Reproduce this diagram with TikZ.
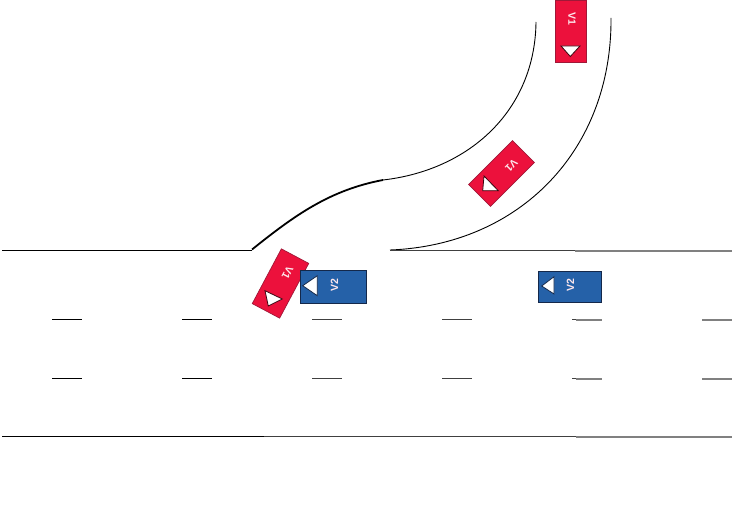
\documentclass[tikz,border=0pt]{standalone}
\usepackage{fontspec}
\setmainfont{Liberation Sans}
\definecolor{carred}{HTML}{EC113C}
\definecolor{carblue}{HTML}{2561A8}
\definecolor{edgeblue}{HTML}{14284A}
\definecolor{edgered}{HTML}{A01838}
\tikzset{
  road/.style={draw=black,line width=0.9pt},
  roadmid/.style={draw=black!75,line width=1.1pt},
  roadpale/.style={draw=black!50,line width=1.7pt},
  roadthick/.style={draw=black,line width=1.8pt},
  redcar/.style={draw=edgered,fill=carred,line width=0.7pt,minimum height=31pt,inner sep=0pt},
  bluecar/.style={draw=edgeblue,fill=carblue,line width=0.8pt,inner sep=0pt},
  mark tri/.style={draw=black!75!carred,fill=white,line width=0.8pt,line join=miter},
  carlabel/.style={text=white!90!carred,font=\fontsize{10.5}{10.5}\selectfont\bfseries,inner sep=0pt},
}
\begin{document}
\begin{tikzpicture}[x=1pt,y=-1pt]
\useasboundingbox[fill=white] (0,0) rectangle (738,529);
% road edges
\draw[road] (2,250.5) -- (252,250.5);
\draw[roadthick] (252,249.5) .. controls (295,215) and (330,190) .. (383,180);
\draw[road] (383,180) .. controls (470,170) and (535,110) .. (536,22);
\draw[road] (390,250) .. controls (520,245) and (612,150) .. (611,18);
\draw[roadmid] (390,250.7) -- (575,250.7);
\draw[roadpale] (575,251) -- (732,251);
\draw[road] (2,436.5) -- (264,436.5);
\draw[roadmid] (264,436.7) -- (576,436.7);
\draw[roadpale] (576,437) -- (732,437);
% lane dashes
\foreach \x in {52,182}{
  \draw[road] (\x,319.2) -- ++(30,0);
  \draw[road] (\x,378.3) -- ++(30,0);
}
\foreach \x in {312,442}{
  \draw[roadmid] (\x,319.5) -- ++(30,0);
  \draw[roadmid] (\x,378.6) -- ++(30,0);
}
\draw[roadmid] (572,319.5) -- ++(5,0);
\draw[roadpale] (576,319.8) -- (602,319.8);
\draw[roadmid] (572,378.6) -- ++(5,0);
\draw[roadpale] (576,379) -- (602,379);
\draw[roadpale] (702,320) -- (732,320);
\draw[roadpale] (702,379) -- (732,379);
% cars
\node[redcar,minimum width=62pt,rotate=-90] (carA) at (570.5,31) {};
\draw[mark tri] (561,46) -- (580,46) -- (570.3,56.5) -- cycle;
\node[carlabel,rotate=-90] (labA) at (572,19) {V1};

\node[redcar,minimum width=62pt,rotate=-135] (carB) at (501.5,173.5) {};
\draw[mark tri] (484,176) -- (498.3,190.7) -- (482.7,190.7) -- cycle;
\node[carlabel,rotate=-135] (labB) at (511.5,165.5) {V1};

\node[redcar,minimum width=62pt,rotate=-118] (carC) at (280.5,283.5) {};
\draw[mark tri] (265,290.7) -- (282.3,299) -- (268.3,306) -- cycle;
\node[carlabel,rotate=-118] (labC) at (287.5,272.5) {V1};

\node[bluecar,minimum width=66pt,minimum height=33pt] (carD) at (333,286.5) {};
\draw[mark tri,draw=edgeblue] (302.7,285.7) -- (317.3,275.7) -- (317.3,295.7) -- cycle;
\node[carlabel,rotate=90] (labD) at (334.5,285.5) {V2};

\node[bluecar,minimum width=63pt,minimum height=31pt] (carE) at (569.5,286.5) {};
\draw[mark tri,draw=edgeblue] (541.7,286) -- (554,276.7) -- (554,294) -- cycle;
\node[carlabel,rotate=90] (labE) at (570.5,285) {V2};
\end{tikzpicture}
\end{document}
